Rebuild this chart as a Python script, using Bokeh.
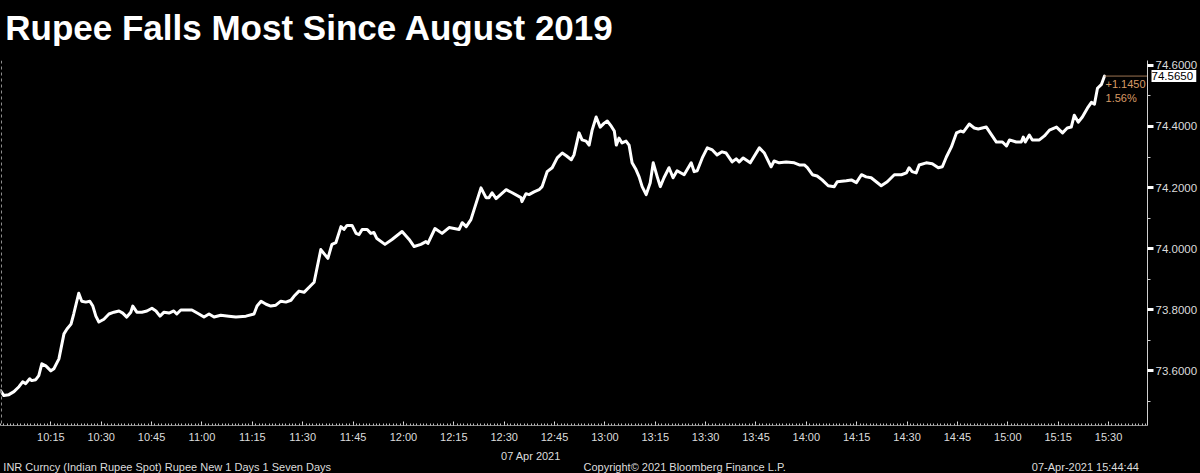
from bokeh.plotting import figure
from bokeh.layouts import column
from bokeh.models import Range1d, FixedTicker, PrintfTickFormatter, Label, Span
from bokeh.core.properties import value
from bokeh.embed import file_html
from bokeh.resources import INLINE

# ---------------- data ----------------
title_text = "Rupee Falls Most Since August 2019"

minutes_since_10am = [
    0.0, 1.0, 2.5, 4.0, 5.5, 6.6, 7.5, 8.7, 9.3, 10.5, 11.4, 12.3, 13.5, 15.0, 15.9, 17.4,
    18.9, 19.8, 21.0, 21.8, 23.3, 24.2, 25.4, 26.6, 27.5, 28.4, 29.3, 30.8, 32.3, 33.8, 35.3,
    36.4, 37.6, 38.8, 39.4, 40.6, 42.1, 43.6, 45.1, 46.3, 47.5, 48.7, 50.2, 51.6, 52.5, 53.7,
    57.0, 59.1, 60.6, 62.1, 63.6, 65.6, 68.0, 70.1, 73.1, 75.5, 76.4, 77.6, 79.1, 80.5, 82.0,
    83.5, 85.0, 86.5, 87.4, 88.9, 90.4, 92.5, 93.4, 95.4, 97.5, 98.7, 99.9, 101.4, 102.3,
    103.2, 104.7, 105.9, 106.8, 107.7, 109.2, 110.3, 111.2, 112.1, 114.5, 116.6, 119.6,
    121.7, 123.2, 125.2, 126.7, 127.3, 129.4, 131.5, 133.6, 136.6, 137.5, 138.7, 140.1,
    143.1, 144.6, 145.5, 146.4, 147.6, 150.6, 152.4, 155.0, 155.3, 156.5, 157.4, 158.9,
    160.4, 161.3, 162.8, 164.3, 165.8, 167.3, 168.5, 170.0, 170.8, 172.3, 173.2, 174.4,
    175.3, 176.2, 177.4, 178.6, 179.8, 180.7, 181.9, 182.8, 183.4, 184.2, 185.1, 186.3,
    187.2, 188.1, 189.3, 190.2, 191.1, 192.3, 193.5, 194.4, 195.6, 196.5, 197.6, 199.1,
    200.3, 201.5, 203.6, 205.7, 206.6, 207.5, 209.0, 210.5, 212.0, 213.4, 214.9, 216.1,
    217.9, 219.1, 220.0, 221.2, 223.3, 226.0, 227.5, 229.5, 230.4, 231.9, 234.0, 236.4,
    237.9, 239.4, 240.3, 241.8, 243.2, 244.7, 246.5, 248.3, 249.2, 251.9, 253.4, 254.9,
    256.4, 257.8, 259.3, 262.3, 264.1, 266.2, 268.3, 269.8, 270.6, 271.5, 272.7, 273.6,
    275.7, 277.5, 279.3, 280.5, 281.7, 283.2, 284.7, 285.9, 286.8, 288.5, 290.0, 291.2,
    292.4, 293.6, 294.2, 296.6, 297.5, 298.4, 299.6, 300.5, 302.5, 304.0, 304.6, 305.2,
    306.4, 307.3, 309.4, 310.9, 312.4, 314.5, 316.3, 317.7, 318.9, 319.8, 321.0, 322.2,
    323.7, 324.9, 325.8, 326.7, 327.9, 328.8,
]

inr_per_usd = [
    73.535, 73.519, 73.522, 73.532, 73.548, 73.564, 73.558, 73.574, 73.568, 73.571, 73.584,
    73.623, 73.616, 73.600, 73.607, 73.639, 73.721, 73.737, 73.753, 73.786, 73.854, 73.828,
    73.825, 73.828, 73.812, 73.779, 73.760, 73.769, 73.786, 73.792, 73.796, 73.789, 73.776,
    73.792, 73.812, 73.792, 73.792, 73.796, 73.805, 73.796, 73.779, 73.792, 73.789, 73.796,
    73.786, 73.799, 73.799, 73.786, 73.776, 73.786, 73.776, 73.782, 73.779, 73.776, 73.779,
    73.786, 73.812, 73.828, 73.818, 73.812, 73.815, 73.828, 73.825, 73.831, 73.844, 73.861,
    73.857, 73.880, 73.890, 73.997, 73.968, 74.014, 74.020, 74.072, 74.063, 74.076, 74.076,
    74.050, 74.046, 74.063, 74.063, 74.050, 74.053, 74.033, 74.014, 74.030, 74.056, 74.030,
    74.007, 74.014, 74.023, 74.017, 74.066, 74.050, 74.069, 74.063, 74.085, 74.072, 74.095,
    74.199, 74.167, 74.167, 74.183, 74.164, 74.193, 74.183, 74.167, 74.154, 74.180, 74.177,
    74.186, 74.193, 74.203, 74.252, 74.265, 74.297, 74.313, 74.304, 74.291, 74.307, 74.379,
    74.356, 74.352, 74.339, 74.388, 74.431, 74.398, 74.411, 74.418, 74.401, 74.385, 74.339,
    74.362, 74.346, 74.352, 74.339, 74.281, 74.258, 74.235, 74.203, 74.177, 74.216, 74.281,
    74.235, 74.203, 74.232, 74.265, 74.232, 74.255, 74.242, 74.281, 74.252, 74.255, 74.297,
    74.330, 74.323, 74.307, 74.317, 74.313, 74.284, 74.294, 74.284, 74.297, 74.281, 74.330,
    74.313, 74.268, 74.287, 74.281, 74.284, 74.281, 74.274, 74.274, 74.265, 74.242, 74.238,
    74.225, 74.206, 74.203, 74.219, 74.222, 74.225, 74.216, 74.242, 74.235, 74.232, 74.206,
    74.219, 74.242, 74.242, 74.248, 74.265, 74.252, 74.248, 74.274, 74.281, 74.278, 74.265,
    74.268, 74.300, 74.333, 74.379, 74.385, 74.382, 74.408, 74.395, 74.392, 74.395, 74.398,
    74.388, 74.349, 74.349, 74.349, 74.336, 74.356, 74.349, 74.349, 74.365, 74.349, 74.372,
    74.356, 74.356, 74.369, 74.388, 74.398, 74.379, 74.395, 74.398, 74.437, 74.414, 74.431,
    74.460, 74.479, 74.473, 74.525, 74.538, 74.565,
]

x_tick_labels = ["10:15", "10:30", "10:45", "11:00", "11:15", "11:30", "11:45", "12:00",
                 "12:15", "12:30", "12:45", "13:00", "13:15", "13:30", "13:45", "14:00",
                 "14:15", "14:30", "14:45", "15:00", "15:15", "15:30"]
y_major_ticks = [73.6, 73.8, 74.0, 74.2, 74.4, 74.6]
y_minor_ticks = [73.5, 73.7, 73.9, 74.1, 74.3, 74.5]

last_value_text = "74.5650"
change_abs_text = "+1.1450"
change_pct_text = "1.56%"
date_text = "07 Apr 2021"
footer_left = "INR Curncy (Indian Rupee Spot) Rupee New 1 Days 1 Seven Days"
footer_mid = "Copyright\u00a9 2021 Bloomberg Finance L.P."
footer_right = "07-Apr-2021 15:44:44"

# ---------------- derived / layout ----------------
x_tick_minutes = [(int(t[:2]) - 10) * 60 + int(t[3:]) for t in x_tick_labels]
X_START, X_END = 0.0, 341.6
Y_START, Y_END = 73.421, 74.616

W = 1200
TITLE_H, MAIN_H, FOOT_H = 46, 399, 28

FONT = "Liberation Sans"
TICK_COLOR = "#dcdcdc"
ORANGE = "#d89b66"


def blank_fig(h):
    f = figure(width=W, height=h, output_backend="svg", toolbar_location=None,
               x_range=Range1d(0, W), y_range=Range1d(h, 0),
               x_axis_location=None, y_axis_location=None,
               min_border=0, min_border_left=0, min_border_right=0,
               min_border_top=0, min_border_bottom=0)
    f.background_fill_color = "black"
    f.border_fill_color = "black"
    f.outline_line_color = None
    f.xgrid.visible = False
    f.ygrid.visible = False
    return f


# ---- title strip ----
tf = blank_fig(TITLE_H)
tf.text(x=[5], y=[27], text=[title_text], text_color="white",
        text_font=value(FONT), text_font_style="bold", text_font_size="35px",
        text_baseline="middle", text_align="left")

# ---- main chart ----
p = figure(width=W, height=MAIN_H, output_backend="svg", toolbar_location=None,
           title=None, y_axis_location="right",
           x_range=Range1d(X_START, X_END), y_range=Range1d(Y_START, Y_END),
           min_border_left=0, min_border_top=14,
           min_border_bottom=18, min_border_right=52)
p.background_fill_color = "black"
p.border_fill_color = "black"
p.outline_line_color = None
p.xgrid.visible = False
p.ygrid.visible = False

xa = p.xaxis[0]
xa.ticker = FixedTicker(ticks=x_tick_minutes,
                        minor_ticks=list(range(0, int(X_END) + 1)))
xa.major_label_overrides = {m: lab for m, lab in zip(x_tick_minutes, x_tick_labels)}
xa.axis_line_color = "#8a8a8a"
xa.axis_line_width = 1
xa.major_tick_in = 4
xa.major_tick_out = 0
xa.major_tick_line_color = "#e0e0e0"
xa.minor_tick_in = 2
xa.minor_tick_out = 0
xa.minor_tick_line_color = "#bdbdbd"
xa.major_label_text_color = TICK_COLOR
xa.major_label_text_font = FONT
xa.major_label_text_font_size = "11px"
xa.major_label_standoff = 5

ya = p.yaxis[0]
ya.ticker = FixedTicker(ticks=y_major_ticks, minor_ticks=y_minor_ticks)
ya.formatter = PrintfTickFormatter(format="%.4f")
ya.axis_line_color = "#cfcfcf"
ya.axis_line_width = 1
ya.major_tick_in = 0
ya.major_tick_out = 6
ya.major_tick_line_width = 3
ya.major_tick_line_color = "white"
ya.minor_tick_in = 0
ya.minor_tick_out = 3
ya.minor_tick_line_color = "#cfcfcf"
ya.major_label_text_color = TICK_COLOR
ya.major_label_text_font = FONT
ya.major_label_text_font_size = "11.5px"
ya.major_label_standoff = 2

p.add_layout(Span(location=X_START + 0.3, dimension="height", line_color="#8c8c8c",
                  line_dash="3 3", line_width=1))

p.line(minutes_since_10am, inr_per_usd, line_color="white", line_width=3,
       line_join="round", line_cap="round")

p.segment(x0=[minutes_since_10am[-1]], y0=[inr_per_usd[-1]],
          x1=[X_END], y1=[inr_per_usd[-1]], line_color="#9c7452", line_width=1)

p.add_layout(Label(x=minutes_since_10am[-1], y=inr_per_usd[-1], x_offset=1, y_offset=-8,
                   text=change_abs_text, text_color=ORANGE, text_font=FONT,
                   text_font_size="11px", text_baseline="middle"))
p.add_layout(Label(x=minutes_since_10am[-1], y=inr_per_usd[-1], x_offset=1, y_offset=-22,
                   text=change_pct_text, text_color=ORANGE, text_font=FONT,
                   text_font_size="11px", text_baseline="middle"))

# last value box, placed in a side panel so it is not clipped to the frame
p.add_layout(Label(x=X_END, y=inr_per_usd[-1], x_offset=4, y_offset=0,
                   text=" " + last_value_text, text_color="black", text_font=FONT,
                   text_font_size="11.5px", text_baseline="middle",
                   background_fill_color="white"), "above")

# ---- footer strip ----
ff = blank_fig(FOOT_H)
ff.text(x=[555], y=[10], text=[date_text], text_color=TICK_COLOR,
        text_font=value(FONT), text_font_size="11px",
        text_align="center", text_baseline="middle")
ff.text(x=[3, 610], y=[21, 21], text=[footer_left, footer_mid], text_color=TICK_COLOR,
        text_font=value(FONT), text_font_size="11px",
        text_align="left", text_baseline="middle")
ff.text(x=[1191], y=[21], text=[footer_right], text_color=TICK_COLOR,
        text_font=value(FONT), text_font_size="11px",
        text_align="right", text_baseline="middle")

layout = column(tf, p, ff, spacing=0)

open("out.html", "w").write(
    file_html(layout, INLINE).replace("<body>", '<body style="background-color:#000000;">'))
